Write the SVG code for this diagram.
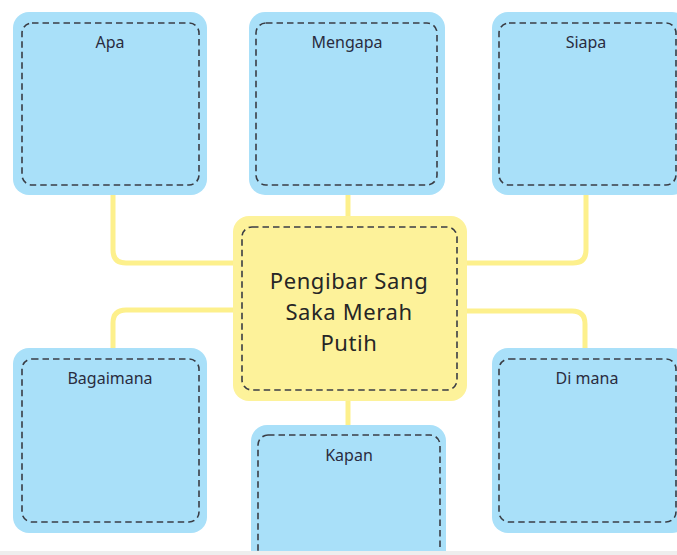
<svg xmlns="http://www.w3.org/2000/svg" width="677" height="555" viewBox="0 0 677 555">
<style>
.box{fill:#a9e0f9;}
.center{fill:#fdf29a;}
.dash{fill:none;stroke:#3a3d45;stroke-width:1.6;stroke-dasharray:6.5 4;}
.conn{fill:none;stroke:#fdf08c;stroke-width:5;stroke-linecap:butt;}
.lbl{font-family:"Noto Sans","Liberation Sans",sans-serif;font-size:16px;fill:#2a2c40;text-anchor:middle;}
.title{font-family:"Noto Sans","Liberation Sans",sans-serif;font-size:22px;letter-spacing:0.6px;fill:#262626;text-anchor:middle;}
</style>
<rect x="0" y="0" width="677" height="555" fill="#ffffff"/>
<g id="connectors">
<path class="conn" d="M113,195 V250 Q113,263 126,263 H236"/>
<path class="conn" d="M236,310 H126 Q113,310 113,323 V350"/>
<path class="conn" d="M464,263 H573 Q586,263 586,250 V195"/>
<path class="conn" d="M464,311 H572 Q585,311 585,324 V350"/>
<path class="conn" d="M348,193 V218"/>
<path class="conn" d="M348,399 V427"/>
</g>
<g id="node-apa">
<rect class="box" x="13" y="12" width="194" height="183" rx="16"/>
<rect class="dash" x="22" y="23" width="177" height="162" rx="10"/>
<text class="lbl" x="110" y="48">Apa</text>
</g>
<g id="node-mengapa">
<rect class="box" x="249" y="12" width="196" height="183" rx="16"/>
<rect class="dash" x="256" y="23" width="181" height="162" rx="10"/>
<text class="lbl" x="347" y="48">Mengapa</text>
</g>
<g id="node-siapa">
<rect class="box" x="492" y="12" width="196" height="183" rx="16"/>
<rect class="dash" x="499" y="23" width="177" height="162" rx="10"/>
<text class="lbl" x="586" y="48">Siapa</text>
</g>
<g id="node-center">
<rect class="center" x="233" y="216" width="234" height="185" rx="16"/>
<rect class="dash" x="242" y="227" width="215" height="163" rx="10"/>
<text class="title" x="349" y="289">Pengibar Sang</text>
<text class="title" x="349" y="320">Saka Merah</text>
<text class="title" x="349" y="351">Putih</text>
</g>
<g id="node-bagaimana">
<rect class="box" x="13" y="348" width="194" height="185" rx="16"/>
<rect class="dash" x="22" y="359" width="177" height="163" rx="10"/>
<text class="lbl" x="110" y="384">Bagaimana</text>
</g>
<g id="node-dimana">
<rect class="box" x="492" y="348" width="196" height="185" rx="16"/>
<rect class="dash" x="499" y="359" width="177" height="163" rx="10"/>
<text class="lbl" x="587" y="384">Di mana</text>
</g>
<g id="node-kapan">
<rect class="box" x="251" y="425" width="195" height="160" rx="16"/>
<rect class="dash" x="258" y="435" width="182" height="150" rx="10"/>
<text class="lbl" x="349" y="461">Kapan</text>
</g>
<rect x="0" y="551" width="677" height="4" fill="#eeeeee"/>
</svg>
